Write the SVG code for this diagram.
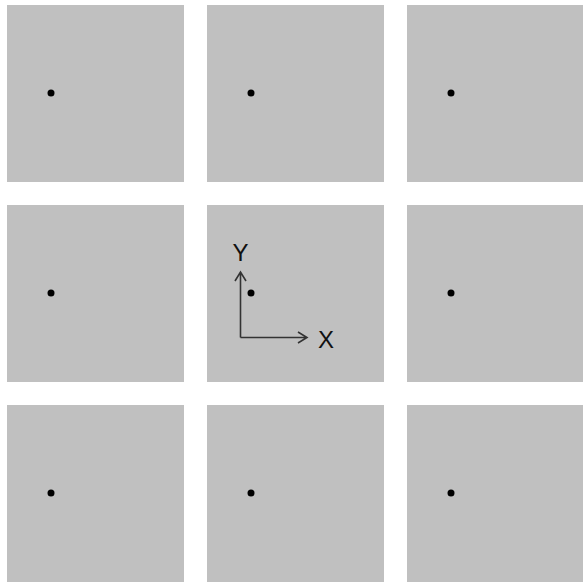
<svg xmlns="http://www.w3.org/2000/svg" width="583" height="582" viewBox="0 0 583 582">
<style>
.cell{fill:#c0c0c0}
.dot{fill:#000}
.ax{stroke:#333;stroke-width:1.6;fill:none}
.lbl{font-family:"Liberation Sans",Arial,sans-serif;font-size:24px;fill:#111}
</style>
<rect width="583" height="582" fill="#fff"/>
<g id="cell-1-1"><rect class="cell" x="7" y="5" width="177" height="177"/><circle class="dot" cx="51" cy="93" r="3.5"/></g>
<g id="cell-1-2"><rect class="cell" x="207" y="5" width="177" height="177"/><circle class="dot" cx="251" cy="93" r="3.5"/></g>
<g id="cell-1-3"><rect class="cell" x="407" y="5" width="177" height="177"/><circle class="dot" cx="451" cy="93" r="3.5"/></g>
<g id="cell-2-1"><rect class="cell" x="7" y="205" width="177" height="177"/><circle class="dot" cx="51" cy="293" r="3.5"/></g>
<g id="cell-2-2"><rect class="cell" x="207" y="205" width="177" height="177"/><circle class="dot" cx="251" cy="293" r="3.5"/></g>
<g id="cell-2-3"><rect class="cell" x="407" y="205" width="177" height="177"/><circle class="dot" cx="451" cy="293" r="3.5"/></g>
<g id="cell-3-1"><rect class="cell" x="7" y="405" width="177" height="177"/><circle class="dot" cx="51" cy="493" r="3.5"/></g>
<g id="cell-3-2"><rect class="cell" x="207" y="405" width="177" height="177"/><circle class="dot" cx="251" cy="493" r="3.5"/></g>
<g id="cell-3-3"><rect class="cell" x="407" y="405" width="177" height="177"/><circle class="dot" cx="451" cy="493" r="3.5"/></g>
<g id="connectors">
<path class="ax" d="M240.5 337.5 V272 M235 281 L240.5 272 L246 281"/>
<path class="ax" d="M240.5 337.5 H307 M298 332 L307 337.5 L298 343"/>
</g>
<text class="lbl" x="240.5" y="261" text-anchor="middle">Y</text>
<text class="lbl" x="326" y="348" text-anchor="middle">X</text>
</svg>
